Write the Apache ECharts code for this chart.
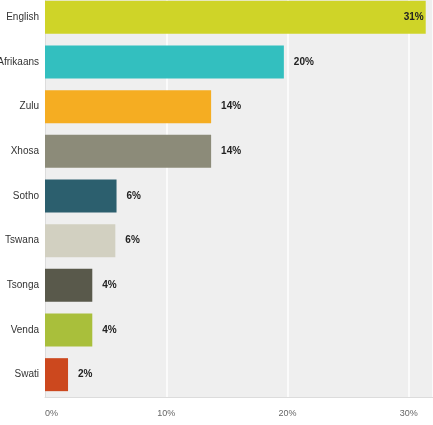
<!DOCTYPE html>
<html><head><meta charset="utf-8">
<script src="https://cdn.jsdelivr.net/npm/echarts@6/dist/echarts.min.js"></script>
<style>html,body{margin:0;padding:0;background:#fff}#c{width:433px;height:425px}</style>
</head><body><div id="c"></div>
<script>
const categories = ["English","Afrikaans","Zulu","Xhosa","Sotho","Tswana","Tsonga","Venda","Swati"];
const values = [31.4, 19.7, 13.7, 13.7, 5.9, 5.8, 3.9, 3.9, 1.9];
const valueLabels = ["31%","20%","14%","14%","6%","6%","4%","4%","2%"];
const colors = ["#cfd428","#33bfbf","#f5ad22","#8c8b79","#2c5f6e","#d2d0c1","#59594b","#a9bf3b","#cc481e"];
const tickValues = [0,10,20,30];

const chart = echarts.init(document.getElementById('c'), null, {renderer:'canvas'});
chart.setOption({
  animation:false,
  grid:{left:45,right:0,top:-5,bottom:28,show:true,backgroundColor:'#efefef',borderWidth:0,
    containLabel:false,outerBoundsMode:'none'},
  xAxis:{type:'value',min:0,max:32,interval:10,
    axisLine:{show:true,lineStyle:{color:'#dcdcdc',width:1}},
    axisTick:{show:false},
    splitLine:{show:true,lineStyle:{color:'#ffffff',width:1.5}},
    axisLabel:{color:'#666',fontSize:9,fontFamily:'Arial, Liberation Sans',margin:12,alignMinLabel:'left',showMaxLabel:false,
      formatter:v=>tickValues.includes(v)?v+'%':''}},
  yAxis:{type:'category',data:categories,inverse:true,
    axisLine:{show:true,lineStyle:{color:'#dcdcdc'}},
    axisTick:{show:false},
    axisLabel:{color:'#333',fontSize:10,fontFamily:'Arial, Liberation Sans',margin:6}},
  series:[{type:'bar',barWidth:33,
    data:values.map((v,i)=>({value:v,itemStyle:{color:colors[i]},
      label:i===0?{position:'insideRight',distance:2}:{position:'right',distance:10}})),
    label:{show:true,color:'#222',fontWeight:'bold',fontSize:10,fontFamily:'Arial, Liberation Sans',
      formatter:p=>valueLabels[p.dataIndex]}}]
});
</script></body></html>
